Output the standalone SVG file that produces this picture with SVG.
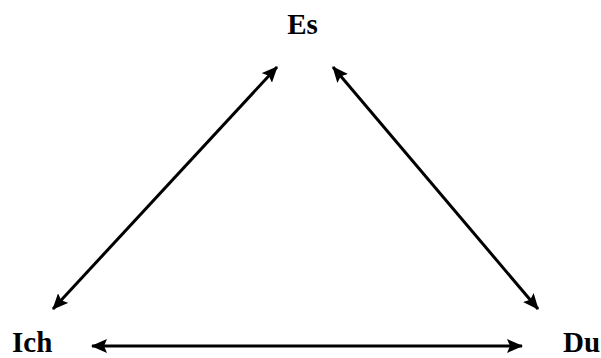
<svg xmlns="http://www.w3.org/2000/svg" width="601" height="358" viewBox="0 0 601 358">
<style>
.lbl{font-family:"Liberation Serif","Times New Roman",serif;font-weight:bold;font-size:29px;fill:#000}
.ar{stroke:#000;stroke-width:3;fill:none;marker-start:url(#ah);marker-end:url(#ah)}
</style>
<defs>
<marker id="ah" viewBox="0 0 16 14" refX="15" refY="7" markerWidth="16" markerHeight="14" markerUnits="userSpaceOnUse" orient="auto-start-reverse">
<path d="M0,0 L16,7 L0,14 L3,7 Z" fill="#000"/>
</marker>
</defs>
<rect width="601" height="358" fill="#fff"/>
<g id="es"><text class="lbl" x="302.5" y="34" text-anchor="middle">Es</text></g>
<g id="ich"><text class="lbl" x="12" y="351.5">Ich</text></g>
<g id="du"><text class="lbl" x="563" y="351.5">Du</text></g>
<g id="connectors">
<line class="ar" x1="277" y1="67" x2="53" y2="309"/>
<line class="ar" x1="333" y1="67" x2="538" y2="309"/>
<line class="ar" x1="92" y1="346" x2="522" y2="346"/>
</g>
</svg>
